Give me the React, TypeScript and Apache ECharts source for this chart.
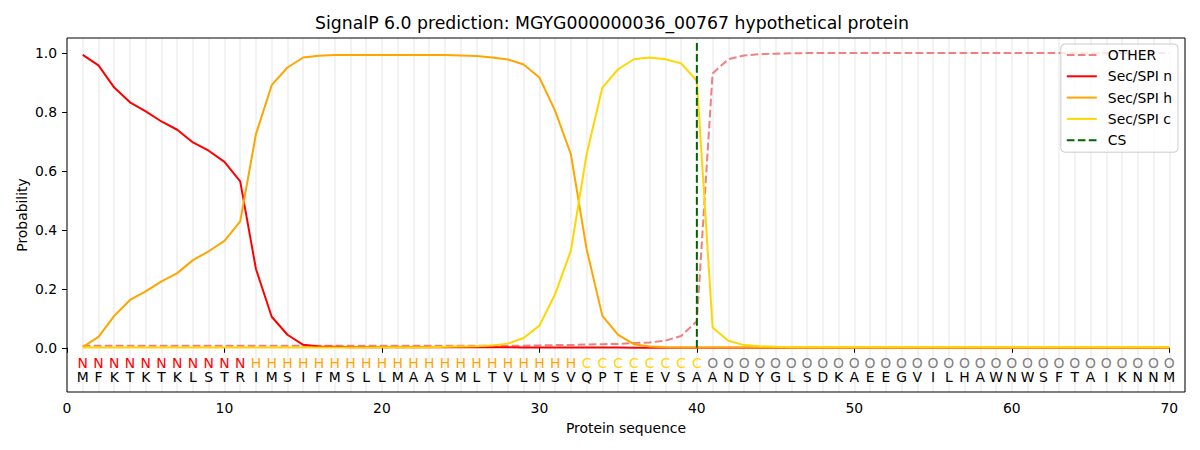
import React, { useEffect, useRef } from "react";
import * as echarts from "echarts";

const residues = "MFKTKTKLSTRIMSIFMSLLMAASMLTVLMSVQPTEEVSAANDYGLSDKAEEGVILHAWNWSFTAIKNNM";
const regions = "NNNNNNNNNNNHHHHHHHHHHHHHHHHHHHHHCCCCCCCCOOOOOOOOOOOOOOOOOOOOOOOOOOOOOO";

const other = [
  0.007, 0.007, 0.007, 0.007, 0.007, 0.007, 0.007, 0.007, 0.007, 0.007,
  0.007, 0.007, 0.007, 0.007, 0.007, 0.007, 0.007, 0.007, 0.007, 0.007,
  0.007, 0.007, 0.007, 0.007, 0.007, 0.007, 0.007, 0.007, 0.007, 0.008,
  0.009, 0.009, 0.011, 0.012, 0.013, 0.016, 0.018, 0.024, 0.04, 0.09,
  0.93, 0.978, 0.991, 0.995, 0.997, 0.998, 0.999, 0.999, 0.999, 0.999,
  0.999, 0.999, 0.999, 0.999, 0.999, 0.999, 0.999, 0.999, 0.999, 0.999,
  0.999, 0.999, 0.999, 0.999, 0.999, 0.999, 0.999, 0.999, 0.999, 0.999,
];

const secN = [
  0.993, 0.957, 0.882, 0.832, 0.801, 0.767, 0.739, 0.696, 0.668, 0.63,
  0.564, 0.267, 0.105, 0.044, 0.01, 0.004, 0.003, 0.002, 0.002, 0.002,
  0.002, 0.002, 0.002, 0.002, 0.002, 0.002, 0.002, 0.002, 0.001, 0.001,
  0.001, 0.001, 0.001, 0.001, 0.001, 0, 0, 0, 0, 0,
  0, 0, 0, 0, 0, 0, 0, 0, 0, 0,
  0, 0, 0, 0, 0, 0, 0, 0, 0, 0,
  0, 0, 0, 0, 0, 0, 0, 0, 0, 0,
];

const secH = [
  0.002, 0.037, 0.108, 0.162, 0.191, 0.225, 0.253, 0.297, 0.327, 0.362,
  0.428, 0.724, 0.89, 0.95, 0.984, 0.99, 0.992, 0.992, 0.992, 0.992,
  0.992, 0.992, 0.992, 0.992, 0.991, 0.989, 0.984, 0.977, 0.96, 0.916,
  0.803, 0.656, 0.334, 0.108, 0.044, 0.012, 0.004, 0.002, 0.001, 0.001,
  0.001, 0.001, 0.001, 0.001, 0.001, 0.001, 0.001, 0.001, 0.001, 0.001,
  0.001, 0.001, 0.001, 0.001, 0.001, 0.001, 0.001, 0.001, 0.001, 0.001,
  0.001, 0.001, 0.001, 0.001, 0.001, 0.001, 0.001, 0.001, 0.001, 0.001,
];

const secC = [
  0.001, 0.001, 0.001, 0.001, 0.001, 0.001, 0.001, 0.001, 0.001, 0.001,
  0.001, 0.001, 0.001, 0.001, 0.001, 0.001, 0.001, 0.001, 0.001, 0.002,
  0.002, 0.002, 0.002, 0.003, 0.004, 0.005, 0.008, 0.014, 0.033, 0.075,
  0.182, 0.329, 0.656, 0.882, 0.944, 0.978, 0.984, 0.978, 0.964, 0.905,
  0.069, 0.024, 0.009, 0.005, 0.003, 0.002, 0.002, 0.002, 0.002, 0.002,
  0.002, 0.002, 0.002, 0.002, 0.002, 0.002, 0.002, 0.002, 0.002, 0.002,
  0.002, 0.002, 0.002, 0.002, 0.002, 0.002, 0.002, 0.002, 0.002, 0.002,
];

const csPosition = 40;
const xTicks = [0, 10, 20, 30, 40, 50, 60, 70];
const yTicks = [0, 0.2, 0.4, 0.6, 0.8, 1.0];

const regionColors: Record<string, string> = {
  N: "#ff0000",
  H: "#ffa500",
  C: "#ffd700",
  O: "#808080",
};

const FONT = "DejaVu Sans";

function pairs(values: number[]) {
  return values.map((v, i) => [i + 1, v]);
}

export default function App() {
  const ref = useRef<HTMLDivElement>(null);

  useEffect(() => {
    if (!ref.current) return;
    const chart = echarts.init(ref.current, undefined, { renderer: "svg" });

    const letterSeries = (chars: string, yVal: number, colorFn: (c: string) => string) => ({
      type: "custom",
      name: "_letters" + yVal,
      xAxisIndex: 0,
      yAxisIndex: 0,
      silent: true,
      clip: false,
      data: chars.split("").map((_, i) => [i + 1, yVal]),
      renderItem: (params: any, api: any) => {
        const p = api.coord([api.value(0), api.value(1)]);
        const ch = chars[params.dataIndex];
        return {
          type: "text",
          x: p[0],
          y: p[1],
          style: {
            text: ch,
            fill: colorFn(ch),
            font: `13.9px "${FONT}"`,
            textAlign: "center",
            textVerticalAlign: "middle",
          },
        };
      },
    });

    const lineSeries = (name: string, values: number[], color: string, dashed = false) => ({
      type: "line",
      name,
      data: pairs(values),
      symbol: "none",
      showSymbol: false,
      lineStyle: { color, width: 2, type: dashed ? [7.7, 3.3] : "solid" },
      itemStyle: { color },
      z: 3,
    });

    chart.setOption({
      animation: false,
      grid: {
        left: 67,
        top: 38,
        right: 15,
        bottom: 58,
        show: true,
        borderColor: "#000",
        borderWidth: 1,
        backgroundColor: "transparent",
        z: 5,
      },
      xAxis: [
        {
          type: "value",
          min: 0,
          max: 71,
          interval: 10,
          axisLine: { show: false },
          axisTick: { show: true, length: 5, customValues: xTicks, lineStyle: { color: "#000" } },
          axisLabel: {
            customValues: xTicks,
            margin: 9,
            color: "#000",
            fontFamily: FONT,
            fontSize: 13.9,
          },
          splitLine: { show: false },
        },
        {
          type: "value",
          min: 0,
          max: 71,
          interval: 1,
          position: "bottom",
          axisLine: { show: false },
          axisTick: { show: false },
          axisLabel: { show: false },
          splitLine: { show: true, lineStyle: { color: "#f2f2f2", width: 2 } },
        },
      ],
      yAxis: {
        type: "value",
        min: -0.15,
        max: 1.05,
        axisLine: { show: false },
        axisTick: { show: true, length: 5, customValues: yTicks, lineStyle: { color: "#000" } },
        axisLabel: {
          customValues: yTicks,
          margin: 10,
          color: "#000",
          fontFamily: FONT,
          fontSize: 13.9,
          formatter: (v: number) => v.toFixed(1),
        },
        splitLine: { show: false },
      },
      legend: {
        orient: "vertical",
        right: 22,
        top: 44,
        data: ["OTHER", "Sec/SPI n", "Sec/SPI h", "Sec/SPI c", "CS"],
        itemWidth: 30,
        itemHeight: 14,
        itemGap: 7.3,
        padding: [4, 6, 5, 5],
        backgroundColor: "rgba(255,255,255,0.8)",
        borderColor: "#cccccc",
        borderWidth: 1,
        borderRadius: 4,
        itemStyle: { opacity: 0 },
        textStyle: {
          fontFamily: FONT,
          fontSize: 13.9,
          color: "#000",
          padding: [0, 0, 0, 6],
        },
        z: 10,
      },
      graphic: [
        {
          type: "text",
          x: 612,
          y: 23,
          style: {
            text: "SignalP 6.0 prediction: MGYG000000036_00767 hypothetical protein",
            font: `17.3px "${FONT}"`,
            fill: "#000",
            textAlign: "center",
            textVerticalAlign: "middle",
          },
        },
        {
          type: "text",
          x: 626,
          y: 428,
          style: {
            text: "Protein sequence",
            font: `13.9px "${FONT}"`,
            fill: "#000",
            textAlign: "center",
            textVerticalAlign: "middle",
          },
        },
        {
          type: "text",
          x: 22,
          y: 215,
          rotation: Math.PI / 2,
          style: {
            text: "Probability",
            font: `13.9px "${FONT}"`,
            fill: "#000",
            textAlign: "center",
            textVerticalAlign: "middle",
          },
        },
      ],
      series: [
        lineSeries("OTHER", other, "#f08080", true),
        lineSeries("Sec/SPI n", secN, "#ff0000"),
        lineSeries("Sec/SPI h", secH, "#ffa500"),
        lineSeries("Sec/SPI c", secC, "#ffd700"),
        {
          type: "line",
          name: "CS",
          data: [
            [csPosition, 0],
            [csPosition, 1.035],
          ],
          symbol: "none",
          showSymbol: false,
          lineStyle: { color: "#006400", width: 2, type: [7.7, 3.3] },
          itemStyle: { color: "#006400" },
          z: 4,
        },
        letterSeries(regions, -0.05, (c) => regionColors[c] || "#000"),
        letterSeries(residues, -0.1, () => "#000"),
      ],
    });

    return () => chart.dispose();
  }, []);

  return (
    <div
      ref={ref}
      style={{ position: "fixed", left: 0, top: 0, width: 1200, height: 450, background: "#fff" }}
    />
  );
}
